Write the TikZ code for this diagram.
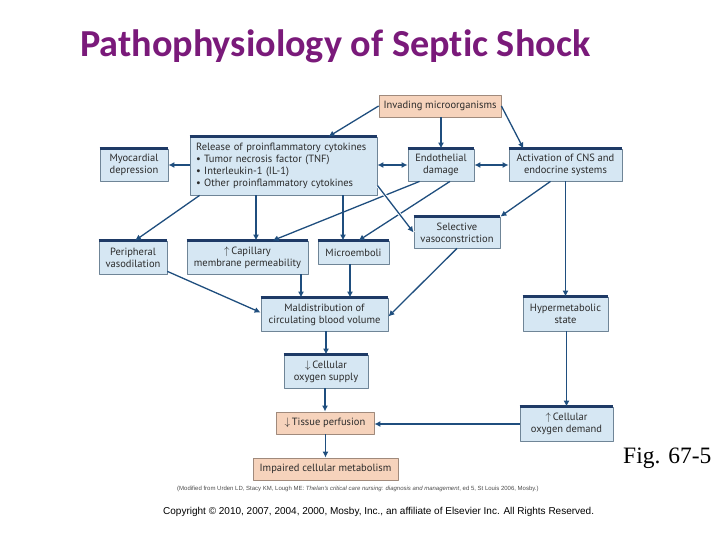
\documentclass[tikz,border=0pt]{standalone}
\usepackage{fontspec}
\setmainfont{PT Sans}
\newfontfamily\titlefont[Ligatures=NoCommon]{Carlito}
\newfontfamily\figfont{Liberation Serif}
\newfontfamily\notefont{Liberation Sans}
\usetikzlibrary{arrows.meta,calc}
\definecolor{arrowblue}{HTML}{1F4E7E}
\definecolor{barblue}{HTML}{1E3A66}
\definecolor{boxfill}{HTML}{D6E7F3}
\definecolor{boxline}{HTML}{6F8597}
\definecolor{boxtext}{HTML}{2B2B2B}
\definecolor{orangefill}{HTML}{F6D3BC}
\definecolor{orangeline}{HTML}{A08A7C}
\definecolor{titlepurple}{HTML}{7A1A7A}

\begin{document}
\begin{tikzpicture}[x=1pt, y=-1pt, line join=round,
  box/.style={draw=boxline, fill=boxfill, line width=0.8pt, text=boxtext,
    font=\fontsize{10.5}{11.8}\selectfont, align=center, inner sep=0pt},
  orangebox/.style={box, fill=orangefill, draw=orangeline},
  arr/.style={draw=arrowblue, line width=1.3pt, -{Latex[length=6pt,width=6pt]}},
  dblarr/.style={arr, {Latex[length=6pt,width=6pt]}-{Latex[length=6pt,width=6pt]}},
  topbar/.style={draw=barblue, line width=2.4pt}]

  \useasboundingbox (0,0) rectangle (720,540);

  % title
  \node[anchor=base west, inner sep=0pt, text=titlepurple,
    font=\titlefont\bfseries\fontsize{38.2}{40}\selectfont] (title) at (80,57)
    {Pathophysiology of Septic Shock};

  % boxes
  \node[orangebox, minimum width=122pt, minimum height=22pt] (inv) at (440,106) {Invading microorganisms};
  \node[box, align=left, text width=175pt, inner xsep=6pt, minimum height=58pt] (rel) at (283.5,166)
    {Release of proinflammatory cytokines\\
     \textbullet\ Tumor necrosis factor (TNF)\\
     \textbullet\ Interleukin-1 (IL-1)\\
     \textbullet\ Other proinflammatory cytokines};
  \node[box, minimum width=68pt, minimum height=32pt] (myo) at (134,165) {Myocardial\\depression};
  \node[box, minimum width=66pt, minimum height=32pt] (endo) at (441,165) {Endothelial\\damage};
  \node[box, minimum width=113pt, minimum height=32pt] (cns) at (565.5,165) {Activation of CNS and\\endocrine systems};
  \node[box, minimum width=86pt, minimum height=31pt] (sel) at (457,232.5) {Selective\\vasoconstriction};
  \node[box, minimum width=68pt, minimum height=33pt] (per) at (133,257.5) {Peripheral\\vasodilation};
  \node[box, minimum width=121pt, minimum height=33pt] (cap) at (247.5,257.5) {$\uparrow$\,Capillary\\membrane permeability};
  \node[box, minimum width=71pt, minimum height=23pt] (mic) at (353.5,252.5) {Microemboli};
  \node[box, minimum width=127pt, minimum height=33pt] (mal) at (324.5,314.5) {Maldistribution of\\circulating blood volume};
  \node[box, minimum width=85pt, minimum height=34pt] (hyp) at (565.5,314) {Hypermetabolic\\state};
  \node[box, minimum width=84pt, minimum height=33pt] (sup) at (326,371.5) {$\downarrow$\,Cellular\\oxygen supply};
  \node[orangebox, minimum width=98pt, minimum height=22pt] (tis) at (325,423) {$\downarrow$\,Tissue perfusion};
  \node[box, minimum width=93pt, minimum height=34pt] (dem) at (566.5,424) {$\uparrow$\,Cellular\\oxygen demand};
  \node[orangebox, minimum width=145pt, minimum height=22pt] (imp) at (325.5,469) {Impaired cellular metabolism};

  \foreach \b in {rel,myo,endo,cns,sel,per,cap,mic,mal,hyp,sup,dem}
    \draw[topbar] (\b.north west) -- (\b.north east);

  % arrow ends
  \coordinate (capin) at ([xshift=8.5pt]cap.north);
  \coordinate (micin) at ([xshift=-10.5pt]mic.north);
  \coordinate (malcap) at ([xshift=-23.5pt]mal.north);
  \coordinate (malmic) at ([xshift=25.5pt]mal.north);

  % connectors
  \draw[arr] (inv.west) -- ([xshift=45pt]rel.north);
  \draw[arr] (inv.south -| endo.north) -- (endo.north);
  \draw[arr] (inv.east) -- ([xshift=-42pt]cns.north);
  \draw[dblarr] (rel.east |- endo.west) -- (endo.west);
  \draw[dblarr] (endo.east) -- (cns.west);
  \draw[arr] (rel.west |- myo.east) -- (myo.east);
  \draw[arr] ([xshift=10pt]rel.south west) -- ([xshift=2pt]per.north);
  \draw[arr] (rel.south -| capin) -- (capin);
  \draw[arr] (rel.south -| micin) -- (micin);
  \draw[arr] ([xshift=12pt]endo.south west) -- ([xshift=25pt]cap.north);
  \draw[arr] ([xshift=9pt]endo.south) -- ([xshift=5pt]mic.north);
  \draw[arr, preaction={draw=white, line width=3pt, -}] ([yshift=10pt]rel.south east) -- (sel.west);
  \draw[arr] ([xshift=-15pt]cns.south) -- (sel.north east);
  \draw[arr] (cns.south) -- (hyp.north);
  \draw[arr] ([yshift=3pt]per.south east) -- ([yshift=2pt]mal.west);
  \draw[arr] (cap.south -| malcap) -- (malcap);
  \draw[arr] (mic.south -| malmic) -- (malmic);
  \draw[arr] (sel.south) -- ([yshift=-2pt]mal.east);
  \draw[arr] (mal.south -| sup.north) -- (sup.north);
  \draw[arr] (sup.south -| tis.north) -- (tis.north);
  \draw[arr] (tis.south -| imp.north) -- (imp.north);
  \draw[arr] (hyp.south -| dem.north) -- (dem.north);
  \draw[arr] (dem.west) -- (tis.east |- dem.west);

  % notes
  \node[anchor=base west, inner sep=0pt, text=black!70, font=\notefont\fontsize{6}{7}\selectfont] (src) at (177,490)
    {(Modified from Urden LD, Stacy KM, Lough ME: \textit{Thelan's critical care nursing: diagnosis and management}, ed 5, St Louis 2006, Mosby.)};
  \node[anchor=base west, inner sep=0pt, font=\figfont\fontsize{23.5}{26}\selectfont] (fig) at (623,463) {Fig. 67-5};
  \node[anchor=base west, inner sep=0pt, font=\notefont\fontsize{10}{12}\selectfont] (copy) at (163,514)
    {Copyright \textcopyright\ 2010, 2007, 2004, 2000, Mosby, Inc., an affiliate of Elsevier Inc. All Rights Reserved.};
\end{tikzpicture}
\end{document}
